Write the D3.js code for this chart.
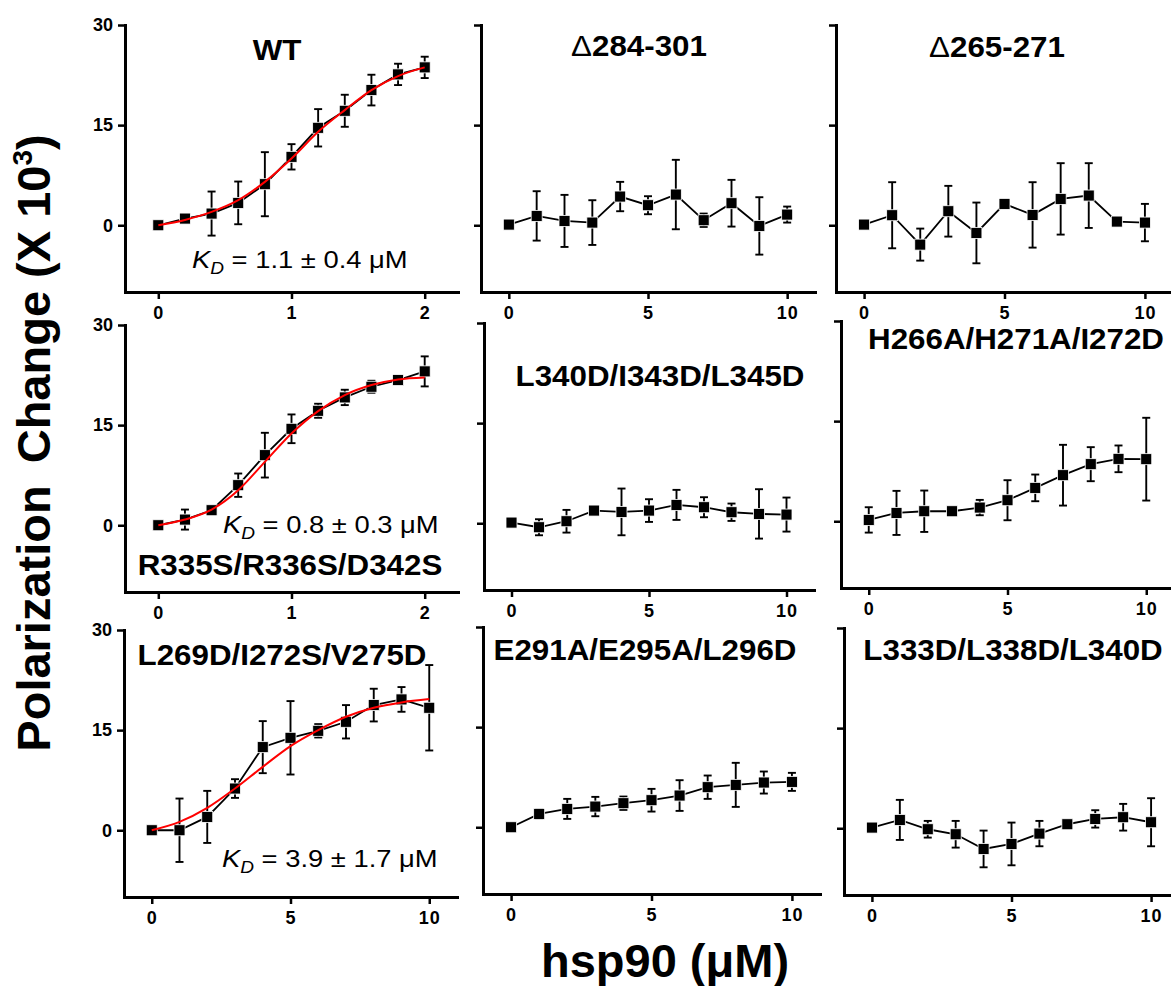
<!DOCTYPE html>
<html>
<head>
<meta charset="utf-8">
<script src="https://cdn.jsdelivr.net/npm/d3@7"></script>
<style>
  html, body { margin: 0; padding: 0; background: #fff; }
  svg { display: block; }
  text { font-family: "Liberation Sans", Arial, sans-serif; }
</style>
</head>
<body>
<svg id="chart" width="1171" height="986"></svg>
<script>
// ---------------- data ----------------
const xWT = [0, 0.2, 0.4, 0.6, 0.8, 1.0, 1.2, 1.4, 1.6, 1.8, 2.0];
const x10 = [0, 1, 2, 3, 4, 5, 6, 7, 8, 9, 10];

const titles = ["WT", "Δ284-301", "Δ265-271",
  "R335S/R336S/D342S", "L340D/I343D/L345D", "H266A/H271A/I272D",
  "L269D/I272S/V275D", "E291A/E295A/L296D", "L333D/L338D/L340D"];

const wtY   = [0, 1.0, 1.75, 3.35, 6.15, 10.25, 14.6, 17.15, 20.25, 22.6, 23.65];
const wtErr = [0, 0.4, 3.3, 3.2, 4.8, 1.9, 2.8, 2.4, 2.3, 1.6, 1.6];
const wtFit = [0, 0.8, 2.0, 3.75, 6.5, 10.0, 14.0, 17.25, 20.25, 22.35, 23.65];

const d284Y   = [0.1, 1.4, 0.65, 0.4, 4.3, 3.0, 4.6, 0.75, 3.3, -0.1, 1.6];
const d284Err = [0, 3.7, 3.9, 3.35, 2.2, 1.35, 5.2, 1.0, 3.5, 4.3, 1.2];

const d265Y   = [0.1, 1.5, -2.9, 2.1, -1.15, 3.2, 1.55, 3.95, 4.45, 0.55, 0.4];
const d265Err = [0, 4.95, 2.4, 3.8, 4.55, 0, 4.9, 5.35, 4.85, 0, 2.8];

const r335Y   = [0, 0.85, 2.25, 6.0, 10.5, 14.45, 17.15, 19.15, 20.75, 21.75, 23.05];
const r335Err = [0, 1.5, 0.4, 1.75, 3.35, 2.15, 1.05, 1.15, 0.9, 0.5, 2.25];
const r335Fit = [0, 0.85, 2.35, 5.25, 9.5, 13.75, 17.1, 19.5, 21.0, 21.85, 22.15];

const l340Y   = [0.1, -0.6, 0.3, 1.9, 1.7, 1.9, 2.75, 2.4, 1.65, 1.4, 1.3];
const l340Err = [0, 1.2, 1.7, 0.3, 3.5, 1.7, 2.25, 1.5, 1.3, 3.7, 2.55];

const h266Y   = [0.2, 1.25, 1.5, 1.5, 2.05, 3.15, 5.0, 6.9, 8.55, 9.35, 9.3];
const h266Err = [1.9, 3.3, 3.1, 0.3, 1.15, 3.0, 2.0, 4.55, 2.55, 2.0, 6.2];

const l269Y   = [0, 0, 2.0, 6.25, 12.45, 13.85, 14.9, 16.25, 18.75, 19.6, 18.35];
const l269Err = [0, 4.75, 3.9, 1.4, 3.9, 5.5, 1.0, 2.5, 2.45, 1.85, 6.4];
const l269Fit = [0, 1.25, 3.35, 6.25, 9.5, 12.6, 15.0, 17.0, 18.35, 19.15, 19.65];

const e291Y   = [0, 2.0, 2.75, 3.1, 3.6, 4.05, 4.75, 6.0, 6.35, 6.7, 6.8];
const e291Err = [0, 0.7, 1.5, 1.45, 1.0, 1.7, 2.3, 1.75, 3.3, 1.65, 1.35];

const l333Y   = [0.1, 1.25, -0.15, -0.9, -3.1, -2.35, -0.8, 0.6, 1.4, 1.65, 0.9];
const l333Err = [0, 3.0, 1.25, 2.0, 2.75, 3.2, 1.9, 0, 1.3, 2.0, 3.6];

const kdLabels = ["1.1 ± 0.4 μM", null, null, "0.8 ± 0.3 μM", null, null, "3.9 ± 1.7 μM", null, null];

const yTicks = [0, 15, 30];
const xTicksWT = [0, 1, 2];
const xTicks10 = [0, 5, 10];
const yDomain = [-10, 30];

const series = [
  {x: xWT, y: wtY, e: wtErr, fit: wtFit},
  {x: x10, y: d284Y, e: d284Err},
  {x: x10, y: d265Y, e: d265Err},
  {x: xWT, y: r335Y, e: r335Err, fit: r335Fit},
  {x: x10, y: l340Y, e: l340Err},
  {x: x10, y: h266Y, e: h266Err},
  {x: x10, y: l269Y, e: l269Err, fit: l269Fit},
  {x: x10, y: e291Y, e: e291Err},
  {x: x10, y: l333Y, e: l333Err}
];

// ---------------- layout ----------------
const panelLeft  = [125, 481, 836, 125, 484, 841, 124, 483, 844];
const panelTop   = [25, 25, 25, 325, 323, 321, 630, 627, 628];
const panelWidth = [333, 334, 337, 333, 330, 333, 333, 337, 335];
const panelHeight = 267;
const titlePos = [[277, 60], [639, 56], [997, 57], [290, 575], [660, 386], [1016, 349], [282, 665], [645, 660], [1013, 660]];
const kdPos = [[192, 268], null, null, [223, 533], null, null, [222, 867], null, null];

const svg = d3.select("#chart");

series.forEach((s, i) => {
  const L = panelLeft[i], T = panelTop[i], W = panelWidth[i], H = panelHeight;
  const isWT = (i === 0 || i === 3);
  const x = d3.scaleLinear().domain(isWT ? [-0.25, 2.25] : [-1, 11]).range([L, L + W]);
  const y = d3.scaleLinear().domain(yDomain).range([T + H, T]);
  const g = svg.append("g");

  // axes
  const ya = d3.axisLeft(y).tickValues(yTicks).tickSize(7).tickSizeOuter(0).tickPadding(5)
    .tickFormat(i % 3 === 0 ? d3.format("d") : () => "");
  const xa = d3.axisBottom(x).tickValues(isWT ? xTicksWT : xTicks10).tickSize(7).tickSizeOuter(0).tickPadding(7)
    .tickFormat(d3.format("d"));
  const yg = g.append("g").attr("transform", `translate(${L},0)`).call(ya);
  const xg = g.append("g").attr("transform", `translate(0,${T + H})`).call(xa);
  [yg, xg].forEach(a => {
    a.select(".domain").attr("stroke", "#000").attr("stroke-width", 3).attr("stroke-linecap", "square");
    a.selectAll(".tick line").attr("stroke", "#000").attr("stroke-width", 2.5);
    a.selectAll(".tick text").attr("fill", "#000").style("font-size", "18px").style("font-weight", "bold")
      .style("font-family", "'Liberation Sans', Arial, sans-serif");
  });
  xg.selectAll(".tick text").style("letter-spacing", "1px");

  const pts = s.x.map((xv, k) => ({x: xv, y: s.y[k], e: s.e[k]}));

  // connecting line
  g.append("path").datum(pts)
    .attr("d", d3.line().x(d => x(d.x)).y(d => y(d.y)))
    .attr("fill", "none").attr("stroke", "#000").attr("stroke-width", 1.8);

  // error bars
  const eb = g.append("g").attr("stroke", "#000").attr("stroke-width", 1.9);
  pts.filter(d => d.e > 0).forEach(d => {
    const cx = x(d.x);
    eb.append("line").attr("x1", cx).attr("x2", cx).attr("y1", y(d.y - d.e)).attr("y2", y(d.y + d.e));
    [d.y - d.e, d.y + d.e].forEach(v => {
      eb.append("line").attr("x1", cx - 4).attr("x2", cx + 4).attr("y1", y(v)).attr("y2", y(v));
    });
  });

  // markers
  g.append("g").selectAll("rect").data(pts).join("rect")
    .attr("x", d => x(d.x) - 5.5).attr("y", d => y(d.y) - 5.5)
    .attr("width", 11).attr("height", 11)
    .attr("fill", "#000").attr("stroke", "#fff").attr("stroke-width", 0.8);

  // fit curve
  if (s.fit) {
    g.append("path").datum(s.x.map((xv, k) => ({x: xv, y: s.fit[k]})))
      .attr("d", d3.line().curve(d3.curveMonotoneX).x(d => x(d.x)).y(d => y(d.y)))
      .attr("fill", "none").attr("stroke", "#ff0000").attr("stroke-width", 2);
  }

  // title
  const tp = titlePos[i];
  const tt = svg.append("text")
    .attr("transform", `translate(${tp[0]},${tp[1]}) scale(1.08,1)`)
    .attr("text-anchor", "middle").style("font-size", "29px").style("font-weight", "bold").attr("fill", "#000");
  const title = titles[i];
  if (title.startsWith("Δ")) {
    tt.append("tspan").style("font-weight", "normal").text("Δ");
    tt.append("tspan").text(title.slice(1));
  } else {
    tt.text(title);
  }

  // KD label
  if (kdLabels[i]) {
    const kp = kdPos[i];
    const kt = svg.append("text")
      .attr("transform", `translate(${kp[0]},${kp[1]}) scale(1.19,1)`)
      .style("font-size", "23px").attr("fill", "#000");
    kt.append("tspan").style("font-style", "italic").text("K");
    kt.append("tspan").style("font-style", "italic").style("font-size", "16px").attr("dy", 6).text("D");
    kt.append("tspan").attr("dy", -6).text(" = " + kdLabels[i]);
  }
});

// axis titles
const yl = svg.append("text")
  .attr("transform", "translate(50,443) rotate(-90)")
  .attr("text-anchor", "middle").style("font-size", "47px").style("font-weight", "bold").attr("fill", "#000");
yl.append("tspan").text("Polarization");
yl.append("tspan").attr("dx", 22).text("Change (X 10");
yl.append("tspan").style("font-size", "28px").attr("dy", -18).text("3");
yl.append("tspan").attr("dy", 18).text(")");

svg.append("text")
  .attr("x", 665).attr("y", 977)
  .attr("text-anchor", "middle").style("font-size", "47px").style("font-weight", "bold").attr("fill", "#000")
  .text("hsp90 (μM)");
</script>
</body>
</html>
